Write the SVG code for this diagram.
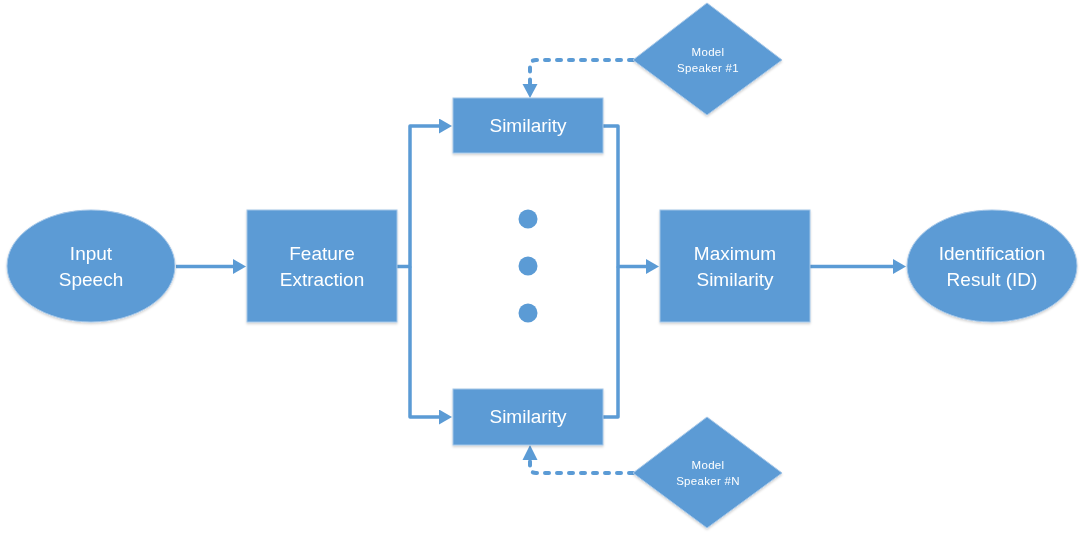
<svg xmlns="http://www.w3.org/2000/svg" width="1084" height="538" viewBox="0 0 1084 538">
<style>
.shape{fill:#5B9BD5;stroke:#a4c6e8;stroke-width:1}
.lbl{font-family:"Liberation Sans",Arial,sans-serif;font-size:19px;fill:#ffffff;text-anchor:middle}
.small{font-family:"Liberation Sans",Arial,sans-serif;font-size:11.5px;fill:#ffffff;text-anchor:middle;letter-spacing:0.3px}
.conn{fill:none;stroke:#5B9BD5;stroke-width:3.5;stroke-linejoin:round}
.dash{fill:none;stroke:#5B9BD5;stroke-width:4;stroke-dasharray:4 8;stroke-linecap:round;stroke-linejoin:round}
</style>
<defs>
<marker id="arr" markerUnits="userSpaceOnUse" markerWidth="16" markerHeight="16" refX="2" refY="7.5" orient="auto">
<path d="M0,0 L13,7.5 L0,15 z" fill="#5B9BD5"/>
</marker>
<filter id="sh" x="-10%" y="-10%" width="120%" height="125%">
<feDropShadow dx="0" dy="1.5" stdDeviation="1.2" flood-color="#000" flood-opacity="0.18"/>
</filter>
</defs>
<rect width="1084" height="538" fill="#ffffff"/>
<g id="connectors">
<path class="conn" d="M176,266.5 H235" marker-end="url(#arr)"/>
<path class="conn" d="M397,266.5 H410 V126 H441" marker-end="url(#arr)"/>
<path class="conn" d="M410,266.5 V417 H441" marker-end="url(#arr)"/>
<path class="conn" d="M603,126 H618 V266.5 H648" marker-end="url(#arr)"/>
<path class="conn" d="M603,417 H618 V266.5"/>
<path class="conn" d="M810,266.5 H895" marker-end="url(#arr)"/>
<path class="dash" d="M633,60 H536 Q530,60 530,66 V84"/>
<path d="M522.5,84 L537.5,84 L530,98 z" fill="#5B9BD5"/>
<path class="dash" d="M633,473 H536 Q530,473 530,467 V460"/>
<path d="M522.5,460 L537.5,460 L530,445 z" fill="#5B9BD5"/>
</g>
<g id="input-speech" filter="url(#sh)">
<ellipse class="shape" cx="91" cy="266" rx="84" ry="56"/>
<text class="lbl" x="91" y="260">Input</text>
<text class="lbl" x="91" y="286">Speech</text>
</g>
<g id="feature-extraction" filter="url(#sh)">
<rect class="shape" x="247" y="210" width="150" height="112"/>
<text class="lbl" x="322" y="260">Feature</text>
<text class="lbl" x="322" y="286">Extraction</text>
</g>
<g id="similarity-1" filter="url(#sh)">
<rect class="shape" x="453" y="98" width="150" height="55"/>
<text class="lbl" x="528" y="132">Similarity</text>
</g>
<g id="similarity-n" filter="url(#sh)">
<rect class="shape" x="453" y="389" width="150" height="56"/>
<text class="lbl" x="528" y="423">Similarity</text>
</g>
<g id="dots">
<circle cx="528" cy="219" r="9.5" fill="#5B9BD5"/>
<circle cx="528" cy="266" r="9.5" fill="#5B9BD5"/>
<circle cx="528" cy="313" r="9.5" fill="#5B9BD5"/>
</g>
<g id="model-1" filter="url(#sh)">
<polygon class="shape" points="707,3 782,60 707,115 633,60"/>
<text class="small" x="708" y="56">Model</text>
<text class="small" x="708" y="72">Speaker #1</text>
</g>
<g id="model-n" filter="url(#sh)">
<polygon class="shape" points="707,417 782,473 707,528 633,473"/>
<text class="small" x="708" y="469">Model</text>
<text class="small" x="708" y="485">Speaker #N</text>
</g>
<g id="maximum-similarity" filter="url(#sh)">
<rect class="shape" x="660" y="210" width="150" height="112"/>
<text class="lbl" x="735" y="260">Maximum</text>
<text class="lbl" x="735" y="286">Similarity</text>
</g>
<g id="identification-result" filter="url(#sh)">
<ellipse class="shape" cx="992" cy="266" rx="85" ry="56"/>
<text class="lbl" x="992" y="260">Identification</text>
<text class="lbl" x="992" y="286">Result (ID)</text>
</g>
</svg>
